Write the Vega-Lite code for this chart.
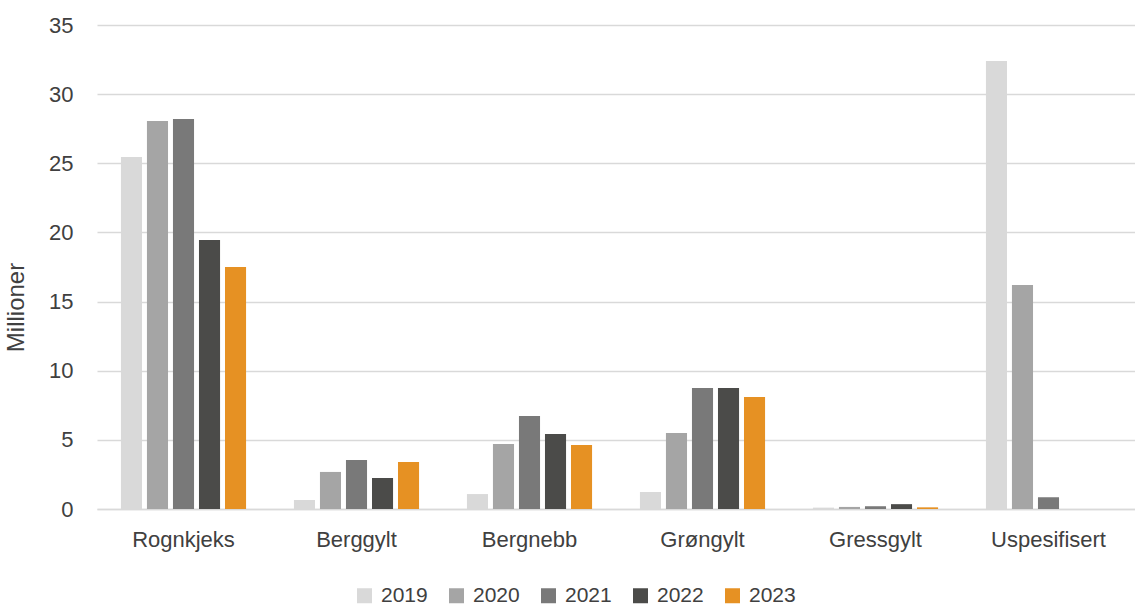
{
  "$schema": "https://vega.github.io/schema/vega-lite/v6.json",
  "width": 1038,
  "height": 484,
  "autosize": {"type": "none"},
  "padding": {"left": 97, "top": 25, "right": 0, "bottom": 99},
  "background": "white",
  "config": {
    "view": {"stroke": null},
    "font": "Liberation Sans",
    "axis": {"labelFont": "Liberation Sans", "titleFont": "Liberation Sans"}
  },
  "data": {
    "values": [
      {"art": "Rognkjeks", "year": "2019", "value": 25.45},
      {"art": "Rognkjeks", "year": "2020", "value": 28.05},
      {"art": "Rognkjeks", "year": "2021", "value": 28.2},
      {"art": "Rognkjeks", "year": "2022", "value": 19.45},
      {"art": "Rognkjeks", "year": "2023", "value": 17.5},
      {"art": "Berggylt", "year": "2019", "value": 0.65},
      {"art": "Berggylt", "year": "2020", "value": 2.68},
      {"art": "Berggylt", "year": "2021", "value": 3.54},
      {"art": "Berggylt", "year": "2022", "value": 2.24},
      {"art": "Berggylt", "year": "2023", "value": 3.4},
      {"art": "Bergnebb", "year": "2019", "value": 1.08},
      {"art": "Bergnebb", "year": "2020", "value": 4.7},
      {"art": "Bergnebb", "year": "2021", "value": 6.72},
      {"art": "Bergnebb", "year": "2022", "value": 5.42},
      {"art": "Bergnebb", "year": "2023", "value": 4.63},
      {"art": "Grøngylt", "year": "2019", "value": 1.23},
      {"art": "Grøngylt", "year": "2020", "value": 5.5},
      {"art": "Grøngylt", "year": "2021", "value": 8.75},
      {"art": "Grøngylt", "year": "2022", "value": 8.75},
      {"art": "Grøngylt", "year": "2023", "value": 8.1},
      {"art": "Gressgylt", "year": "2019", "value": 0.1},
      {"art": "Gressgylt", "year": "2020", "value": 0.15},
      {"art": "Gressgylt", "year": "2021", "value": 0.2},
      {"art": "Gressgylt", "year": "2022", "value": 0.35},
      {"art": "Gressgylt", "year": "2023", "value": 0.12},
      {"art": "Uspesifisert", "year": "2019", "value": 32.4},
      {"art": "Uspesifisert", "year": "2020", "value": 16.2},
      {"art": "Uspesifisert", "year": "2021", "value": 0.85},
      {"art": "Uspesifisert", "year": "2022", "value": 0},
      {"art": "Uspesifisert", "year": "2023", "value": 0}
    ]
  },
  "mark": {"type": "bar"},
  "encoding": {
    "x": {
      "field": "art",
      "type": "nominal",
      "sort": ["Rognkjeks", "Berggylt", "Bergnebb", "Grøngylt", "Gressgylt", "Uspesifisert"],
      "scale": {"paddingInner": 0, "paddingOuter": 0},
      "axis": {
        "title": null,
        "labelAngle": 0,
        "labelFontSize": 22,
        "labelColor": "#404040",
        "labelPadding": 20,
        "ticks": false,
        "domainColor": "#d9d9d9",
        "domainWidth": 1.5
      }
    },
    "xOffset": {
      "field": "year",
      "type": "nominal",
      "scale": {"paddingInner": 0.19, "paddingOuter": 0.92}
    },
    "y": {
      "field": "value",
      "type": "quantitative",
      "scale": {"domain": [0, 35]},
      "axis": {
        "title": "Millioner",
        "titleFontSize": 24,
        "titleFontWeight": "normal",
        "titleColor": "#404040",
        "titlePadding": 20,
        "titleY": 282,
        "values": [0, 5, 10, 15, 20, 25, 30, 35],
        "labelFontSize": 22,
        "labelColor": "#404040",
        "labelPadding": 24,
        "ticks": false,
        "domain": false,
        "gridColor": "#d9d9d9",
        "gridWidth": 1.5
      }
    },
    "color": {
      "field": "year",
      "type": "nominal",
      "scale": {
        "domain": ["2019", "2020", "2021", "2022", "2023"],
        "range": ["#d9d9d9", "#a5a5a5", "#797979", "#4b4b49", "#e69123"]
      },
      "legend": {
        "title": null,
        "orient": "none",
        "direction": "horizontal",
        "legendX": 257,
        "legendY": 560,
        "symbolType": "square",
        "symbolSize": 225,
        "symbolStrokeWidth": 0,
        "labelFontSize": 21,
        "labelColor": "#404040",
        "labelOffset": 6,
        "columnPadding": 18
      }
    }
  }
}
